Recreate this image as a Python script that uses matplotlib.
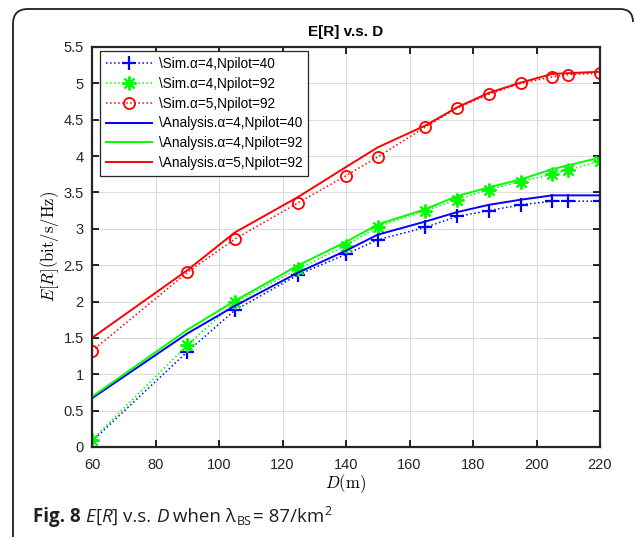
import numpy as np
import matplotlib.pyplot as plt
from matplotlib.path import Path
from matplotlib.patches import PathPatch

plt.rcParams['font.family'] = ['Liberation Sans', 'DejaVu Sans']
plt.rcParams['mathtext.fontset'] = 'cm'

# Simulation points
d_sim = [60, 90, 105, 125, 140, 150, 165, 175, 185, 195, 205, 210, 220]
sim_a4_n40 = [0.08, 1.31, 1.88, 2.37, 2.65, 2.85, 3.02, 3.17, 3.25, 3.33, 3.38, 3.38, 3.38]
sim_a4_n92 = [0.10, 1.40, 1.99, 2.45, 2.77, 3.03, 3.25, 3.40, 3.54, 3.65, 3.75, 3.81, 3.93]
sim_a5_n92 = [1.32, 2.40, 2.86, 3.36, 3.73, 3.99, 4.40, 4.66, 4.85, 5.00, 5.09, 5.12, 5.14]

# Analysis curves
d_ana = [60, 90, 105, 125, 140, 150, 165, 175, 185, 195, 205, 220]
ana_a4_n40 = [0.67, 1.56, 1.94, 2.40, 2.70, 2.92, 3.10, 3.23, 3.33, 3.40, 3.46, 3.46]
ana_a4_n92 = [0.69, 1.61, 2.01, 2.50, 2.82, 3.06, 3.27, 3.45, 3.57, 3.68, 3.82, 3.98]
ana_a5_n92 = [1.50, 2.43, 2.95, 3.44, 3.85, 4.12, 4.42, 4.67, 4.87, 5.01, 5.13, 5.16]

x_ticks = [60, 80, 100, 120, 140, 160, 180, 200, 220]
y_ticks = [0, 0.5, 1, 1.5, 2, 2.5, 3, 3.5, 4, 4.5, 5, 5.5]
y_tick_labels = ['0', '0.5', '1', '1.5', '2', '2.5', '3', '3.5', '4', '4.5', '5', '5.5']

fig = plt.figure(figsize=(6.35, 5.37), dpi=100)
ax = fig.add_axes([92/635, 1 - 447/537, 508/635, 400/537])

star = (8, 2, 0)
ax.plot(d_sim, sim_a4_n40, ':', color='#0000ff', marker='+', ms=10, mew=1.6, lw=1.1,
        label='\\Sim.α=4,Npilot=40')
ax.plot(d_sim, sim_a4_n92, ':', color='#00ff00', marker=star, ms=10, mew=1.4, lw=1.1,
        label='\\Sim.α=4,Npilot=92')
ax.plot(d_sim, sim_a5_n92, ':', color='#ff0000', marker='o', ms=8, mew=1.3, mfc='none', lw=1.1,
        label='\\Sim.α=5,Npilot=92')
ax.plot(d_ana, ana_a4_n40, '-', color='#0000ff', lw=1.4, label='\\Analysis.α=4,Npilot=40')
ax.plot(d_ana, ana_a4_n92, '-', color='#00ff00', lw=1.4, label='\\Analysis.α=4,Npilot=92')
ax.plot(d_ana, ana_a5_n92, '-', color='#ff0000', lw=1.4, label='\\Analysis.α=5,Npilot=92')

ax.set_xlim(60, 220)
ax.set_ylim(0, 5.5)
ax.set_xticks(x_ticks)
ax.set_yticks(y_ticks)
ax.set_yticklabels(y_tick_labels)
ax.grid(True, color='#dcdcdc', lw=0.8)
ax.set_axisbelow(True)
ax.tick_params(direction='in', top=True, right=True, length=5, width=1.2,
               labelsize=10.5, labelcolor='#262626')
ax.tick_params(axis='x', pad=8)
ax.tick_params(axis='y', pad=6)
for s in ax.spines.values():
    s.set_linewidth(1.6)
    s.set_color('#262626')

ax.set_title('E[R] v.s. D', fontsize=11, fontweight='bold', pad=8)
ax.set_xlabel(r'$D(\mathrm{m})$', fontsize=12, labelpad=0)
ax.set_ylabel(r'$E[R](\mathrm{bit/s/Hz})$', fontsize=12, labelpad=2)

leg = ax.legend(loc='upper left', bbox_to_anchor=(8/508, 1 - 4/400), borderaxespad=0,
                fontsize=9.8, handlelength=3.4, borderpad=0.45,
                labelspacing=0.42, handletextpad=0.45, fancybox=False,
                edgecolor='#262626', framealpha=1)
leg.get_frame().set_linewidth(0.9)

# caption with mixed styles
cap_size = 13.5
sub_size = 9
cap_kw = dict(family='Open Sans', color='#231f20', va='baseline')


def put_pieces(x, y, pieces):
    r = fig.canvas.get_renderer()
    for txt, size, kw in pieces:
        t = fig.text(x, y, txt, fontsize=size, **cap_kw, **kw)
        bb = t.get_window_extent(renderer=r)
        x += bb.width / fig.bbox.width
    return x


fig.canvas.draw()
base = 1 - 522/537
x = put_pieces(33/635, base, [
    ('Fig. 8 ', cap_size, dict(fontweight='bold')),
    ('E', cap_size, dict(style='italic')),
    ('[', cap_size, dict()),
    ('R', cap_size, dict(style='italic')),
    ('] v.s. ', cap_size, dict()),
    ('D', cap_size, dict(style='italic')),
    (' when λ', cap_size, dict()),
])
x = put_pieces(x, base - 3/537, [('BS', sub_size, dict())])
x = put_pieces(x + 2/635, base, [('= 87/km', cap_size, dict())])
put_pieces(x, base + 7/537, [('2', sub_size, dict())])

# rounded border of the figure panel
def fp(px, py):
    return (px / 635, 1 - py / 537)

verts = [fp(13, 537), fp(13, 24), fp(13, 9), fp(28, 9), fp(620, 9), fp(633, 9), fp(633, 22)]
codes = [Path.MOVETO, Path.LINETO, Path.CURVE3, Path.CURVE3, Path.LINETO, Path.CURVE3, Path.CURVE3]
fig.add_artist(PathPatch(Path(verts, codes), transform=fig.transFigure, fill=False,
                         lw=1.3, edgecolor='#231f20'))

fig.savefig('out.png', dpi=100)
